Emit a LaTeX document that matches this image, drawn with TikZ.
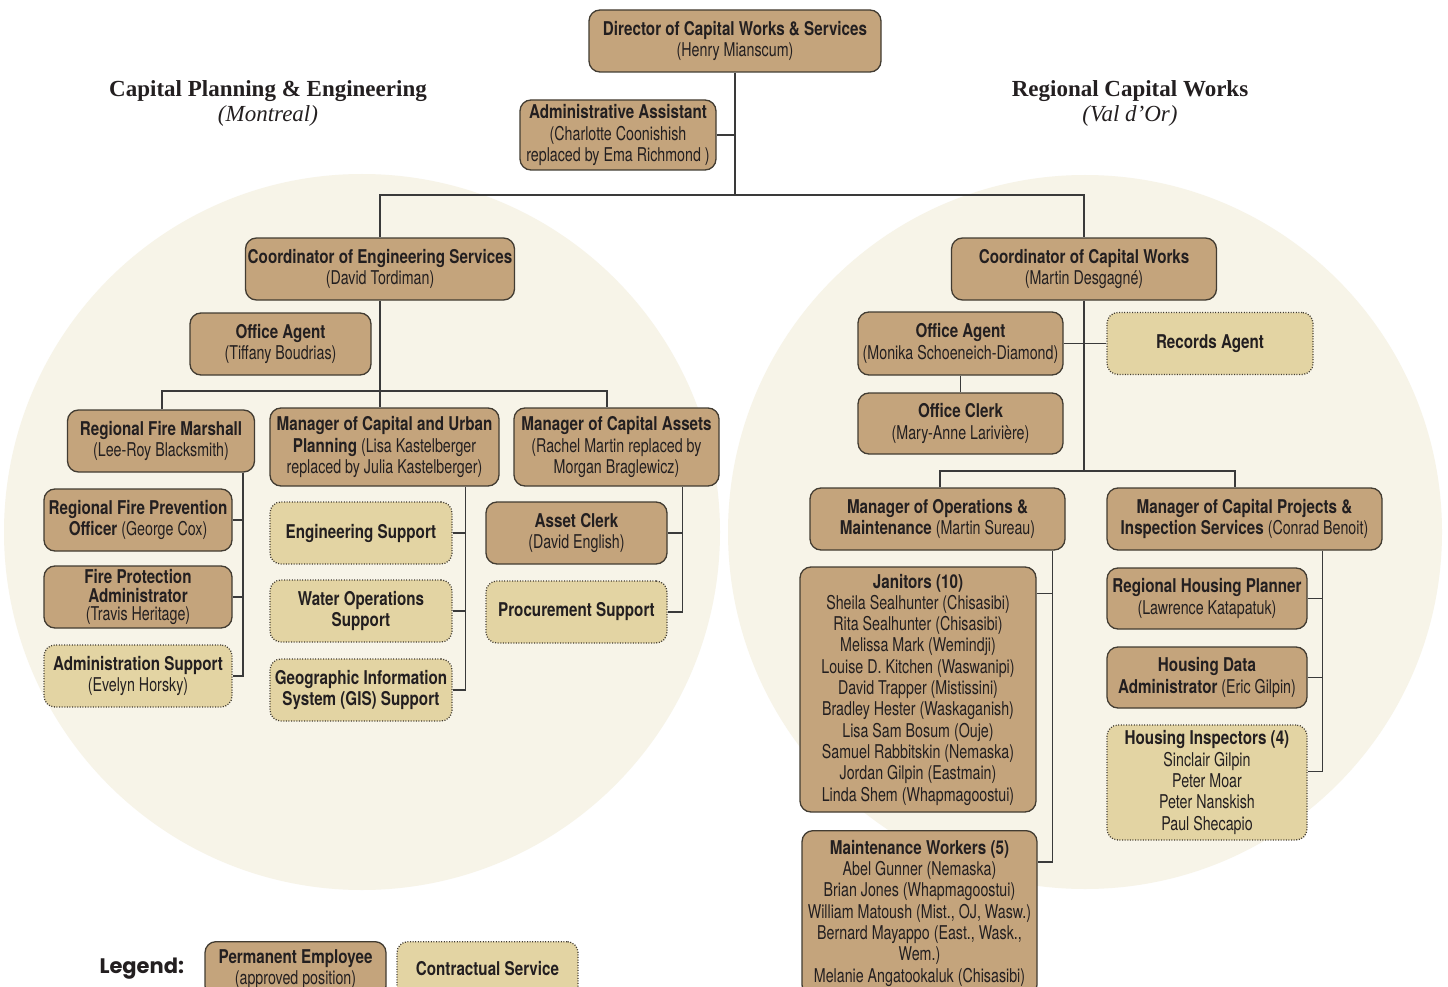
\documentclass[tikz,border=0pt]{standalone}
\usepackage{fontspec}
\newfontfamily\cond{TeX Gyre Heros}[FakeStretch=0.75]
\newfontfamily\condb{TeX Gyre Heros}[FakeStretch=0.80]
\newfontfamily\hdr{Liberation Serif}
\newfontfamily\legf{Poppins}
\newcommand\B[1]{{\condb\bfseries #1}}
\definecolor{permc}{RGB}{196,164,124}
\definecolor{contc}{RGB}{227,212,163}
\definecolor{bgc}{RGB}{247,244,232}
\definecolor{bordc}{RGB}{66,60,50}
\definecolor{linec}{RGB}{58,58,58}
\definecolor{txtc}{RGB}{35,31,32}
\tikzset{
 perm/.style={draw=bordc, fill=permc, line width=1.3pt, rounded corners=11pt, align=center, inner sep=2pt, text=txtc, font=\cond\fontsize{19}{21.3}\selectfont},
 contr/.style={perm, fill=contc, dash pattern=on 1pt off 1.6pt},
 conn/.style={draw=linec, line width=1.4pt},
 sz/.style 2 args={minimum width=#1pt, minimum height=#2pt},
 hdrst/.style={anchor=base, text=txtc, font=\hdr\fontsize{23}{27}\selectfont},
}
\begin{document}
\begin{tikzpicture}[x=1pt,y=-1pt]
\path[use as bounding box] (0,0) rectangle (1448,987);
\clip (0,0) rectangle (1448,987);
\fill[white] (0,0) rectangle (1448,987);
% background circles
\fill[bgc] (362,532) circle (358);
\fill[bgc] (1085,532) circle (357);
% headers
\node[hdrst] (lh) at (268,97) {\bfseries Capital Planning \& Engineering};
\node[hdrst] (lhs) at (268,122) {\itshape (Montreal)};
\node[hdrst] (rh) at (1130,97) {\bfseries Regional Capital Works};
\node[hdrst] (rhs) at (1130,122) {\itshape (Val d’Or)};
% nodes
\node[perm, sz={292}{62}] (dir) at (735,41) {\B{Director of Capital Works \& Services}\\(Henry Mianscum)};
\node[perm, sz={196}{70}] (aa) at (618,135) {\B{Administrative Assistant}\\(Charlotte Coonishish\\replaced by Ema Richmond )};
\node[perm, sz={269}{62}] (ces) at (380,269) {\B{Coordinator of Engineering Services}\\(David Tordiman)};
\node[perm, sz={181}{62}] (oa1) at (280.5,344) {\B{Office Agent}\\(Tiffany Boudrias)};
\node[perm, sz={187}{62}] (rfm) at (161,441) {\B{Regional Fire Marshall}\\(Lee-Roy Blacksmith)};
\node[perm, sz={229}{78}] (mcup) at (384.5,447) {\B{Manager of Capital and Urban}\\\B{Planning} (Lisa Kastelberger\\replaced by Julia Kastelberger)};
\node[perm, sz={205}{78}] (mca) at (616.5,447) {\B{Manager of Capital Assets}\\(Rachel Martin replaced by\\Morgan Braglewicz)};
\node[perm, sz={188}{62}] (rfpo) at (138,520) {\B{Regional Fire Prevention}\\\B{Officer} (George Cox)};
\node[perm, sz={188}{62}, font=\cond\fontsize{19}{18.5}\selectfont] (fpa) at (138,597) {\B{Fire Protection}\\\B{Administrator}\\(Travis Heritage)};
\node[contr, sz={188}{62}] (as) at (138,676) {\B{Administration Support}\\(Evelyn Horsky)};
\node[contr, sz={182}{62}] (es) at (361,533) {\B{Engineering Support}};
\node[contr, sz={182}{62}] (wos) at (361,611) {\B{Water Operations}\\\B{Support}};
\node[contr, sz={182}{62}] (gis) at (361,690) {\B{Geographic Information}\\\B{System (GIS) Support}};
\node[perm, sz={181}{62}] (ac) at (576.5,533) {\B{Asset Clerk}\\(David English)};
\node[contr, sz={181}{62}] (ps) at (576.5,612) {\B{Procurement Support}};
\node[perm, sz={265}{62}] (ccw) at (1084,269) {\B{Coordinator of Capital Works}\\(Martin Desgagné)};
\node[perm, sz={205}{63}] (oa2) at (960.5,343.5) {\B{Office Agent}\\(Monika Schoeneich-Diamond)};
\node[contr, sz={206}{62}] (ra) at (1210,343.5) {\B{Records Agent}};
\node[perm, sz={205}{61}] (oc) at (960.5,423.5) {\B{Office Clerk}\\(Mary-Anne Larivière)};
\node[perm, sz={255}{62}] (mom) at (937.5,519) {\B{Manager of Operations \&}\\\B{Maintenance} (Martin Sureau)};
\node[perm, sz={275}{62}] (mcp) at (1244.5,519) {\B{Manager of Capital Projects \&}\\\B{Inspection Services} (Conrad Benoit)};
\node[perm, sz={236}{245}] (jan) at (918,689.5) {\B{Janitors (10)}\\Sheila Sealhunter (Chisasibi)\\Rita Sealhunter (Chisasibi)\\Melissa Mark (Wemindji)\\Louise D. Kitchen (Waswanipi)\\David Trapper (Mistissini)\\Bradley Hester (Waskaganish)\\Lisa Sam Bosum (Ouje)\\Samuel Rabbitskin (Nemaska)\\Jordan Gilpin (Eastmain)\\Linda Shem (Whapmagoostui)};
\node[perm, anchor=north, minimum width=235pt, inner ysep=9.5pt] (mw) at (919.5,830) {\B{Maintenance Workers (5)}\\Abel Gunner (Nemaska)\\Brian Jones (Whapmagoostui)\\William Matoush (Mist., OJ, Wasw.)\\Bernard Mayappo (East., Wask.,\\Wem.)\\Melanie Angatookaluk (Chisasibi)};
\node[perm, sz={200}{61}] (rhp) at (1207,598.5) {\B{Regional Housing Planner}\\(Lawrence Katapatuk)};
\node[perm, sz={200}{61}] (hda) at (1207,677.5) {\B{Housing Data}\\\B{Administrator} (Eric Gilpin)};
\node[contr, sz={200}{115}] (hi) at (1207,782.5) {\B{Housing Inspectors (4)}\\Sinclair Gilpin\\Peter Moar\\Peter Nanskish\\Paul Shecapio};
% legend
\node[anchor=base west, text=txtc, font=\legf\bfseries\fontsize{21}{25}\selectfont] (leg) at (96,973) {Legend:};
\node[perm, anchor=north, minimum width=181pt, inner ysep=8pt] (pe) at (295.5,941) {\B{Permanent Employee}\\(approved position)};
\node[contr, anchor=north, minimum width=181pt, inner ysep=3pt, text height=31pt, text depth=20pt] (cs) at (487.5,941) {\B{Contractual Service}};
% connectors
\coordinate (j0) at (735,195);
\draw[conn] (dir.south) -- (j0);
\draw[conn] (aa.east) -- (aa.east -| j0);
\draw[conn] (ces.north) |- (j0) -| (ccw.north);
\draw[conn] (ces.south) -- (ces.south |- mcup.north);
\coordinate (j1) at (380,391);
\draw[conn] ([xshift=1pt]rfm.north) |- (j1) -| ([xshift=-9.5pt]mca.north);
\coordinate (v1) at ([xshift=-12pt]rfm.south east);
\draw[conn] (v1) |- (as.east);
\draw[conn] (rfpo.east) -- (rfpo.east -| v1);
\draw[conn] (fpa.east) -- (fpa.east -| v1);
\coordinate (v2) at ([xshift=-34pt]mcup.south east);
\draw[conn] (v2) |- (gis.east);
\draw[conn] (es.east) -- (es.east -| v2);
\draw[conn] (wos.east) -- (wos.east -| v2);
\coordinate (v3) at ([xshift=-37pt]mca.south east);
\draw[conn] (v3) |- (ps.east);
\draw[conn] (ac.east) -- (ac.east -| v3);
\draw[conn] (oa2.east) -- (ra.west);
\draw[conn] (oa2.south) -- (oc.north);
\coordinate (j2) at (1084,471);
\draw[conn] (ccw.south) -- (j2);
\draw[conn] ([xshift=2.5pt]mom.north) |- (j2) -| ([xshift=-9.5pt]mcp.north);
\coordinate (v4) at ([xshift=-13pt]mom.south east);
\coordinate (jms) at ([yshift=-32pt]mw.north east);
\coordinate (jjs) at ([yshift=-27pt]jan.north east);
\draw[conn] (v4) |- (jms);
\draw[conn] (jjs) -- (jjs -| v4);
\coordinate (v5) at ([xshift=-60pt]mcp.south east);
\coordinate (his) at ([yshift=-47pt]hi.north east);
\draw[conn] (v5) |- (his);
\draw[conn] (rhp.east) -- (rhp.east -| v5);
\draw[conn] (hda.east) -- (hda.east -| v5);
\end{tikzpicture}
\end{document}
